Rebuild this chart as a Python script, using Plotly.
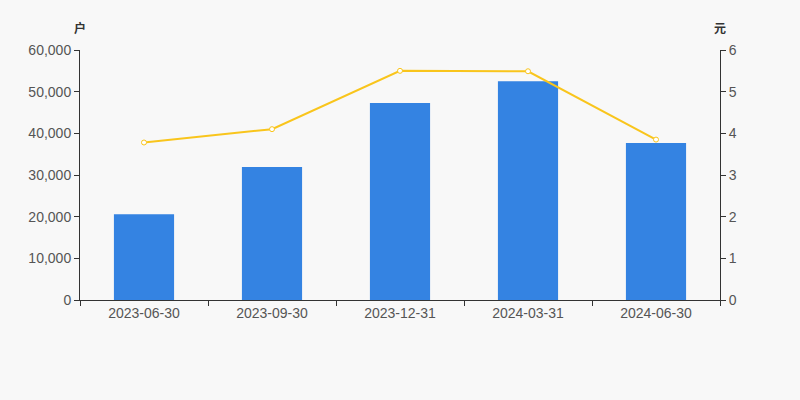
import plotly.graph_objects as go

dates = ["2023-06-30", "2023-09-30", "2023-12-31", "2024-03-31", "2024-06-30"]
holders = [20600, 31900, 47300, 52500, 37700]
avg_value = [3.78, 4.10, 5.50, 5.49, 3.85]

fig = go.Figure()
fig.add_trace(go.Bar(x=dates, y=holders, marker_color="#3483e2", marker_line_width=0,
                     width=0.47, yaxis="y", name="户数"))
fig.add_trace(go.Scatter(x=dates, y=avg_value, yaxis="y2", mode="lines+markers",
                         line=dict(color="#f9c51c", width=2),
                         marker=dict(symbol="circle", size=5, color="#ffffff",
                                     line=dict(color="#f9c51c", width=1)),
                         name="元"))

font = dict(family="Liberation Sans, Arial, sans-serif", size=14, color="#555555")
fig.update_layout(
    width=800, height=400,
    margin=dict(l=80, r=80, t=50, b=100),
    paper_bgcolor="#f8f8f8", plot_bgcolor="#f8f8f8",
    showlegend=False,
    font=font,
    xaxis=dict(type="category", showline=True, linecolor="#333333", linewidth=1,
               ticks="outside", tickson="boundaries", ticklen=5, tickcolor="#333333",
               showgrid=False, tickfont=font),
    yaxis=dict(range=[0, 60000], tickvals=[0, 10000, 20000, 30000, 40000, 50000, 60000],
               ticktext=["0", "10,000", "20,000", "30,000", "40,000", "50,000", "60,000"],
               showline=True, linecolor="#333333", ticks="outside", ticklen=5,
               tickcolor="#333333", showgrid=False, zeroline=False, tickfont=font),
    yaxis2=dict(range=[0, 6], tickvals=[0, 1, 2, 3, 4, 5, 6], overlaying="y", side="right",
                showline=True, linecolor="#333333", ticks="outside", ticklen=5,
                tickcolor="#333333", showgrid=False, zeroline=False, tickfont=font),
    annotations=[
        dict(text="<b>户</b>", xref="paper", yref="paper", x=0, y=1, yshift=23,
             xanchor="center", yanchor="middle", showarrow=False,
             font=dict(family="Noto Sans CJK SC", size=12, color="#333333")),
        dict(text="<b>元</b>", xref="paper", yref="paper", x=1, y=1, yshift=23,
             xanchor="center", yanchor="middle", showarrow=False,
             font=dict(family="Noto Sans CJK SC", size=12, color="#333333")),
    ],
)
fig.write_html("out.html", config={"displayModeBar": False},
               post_script="document.body.style.margin='0';document.body.style.background='#f8f8f8';")
